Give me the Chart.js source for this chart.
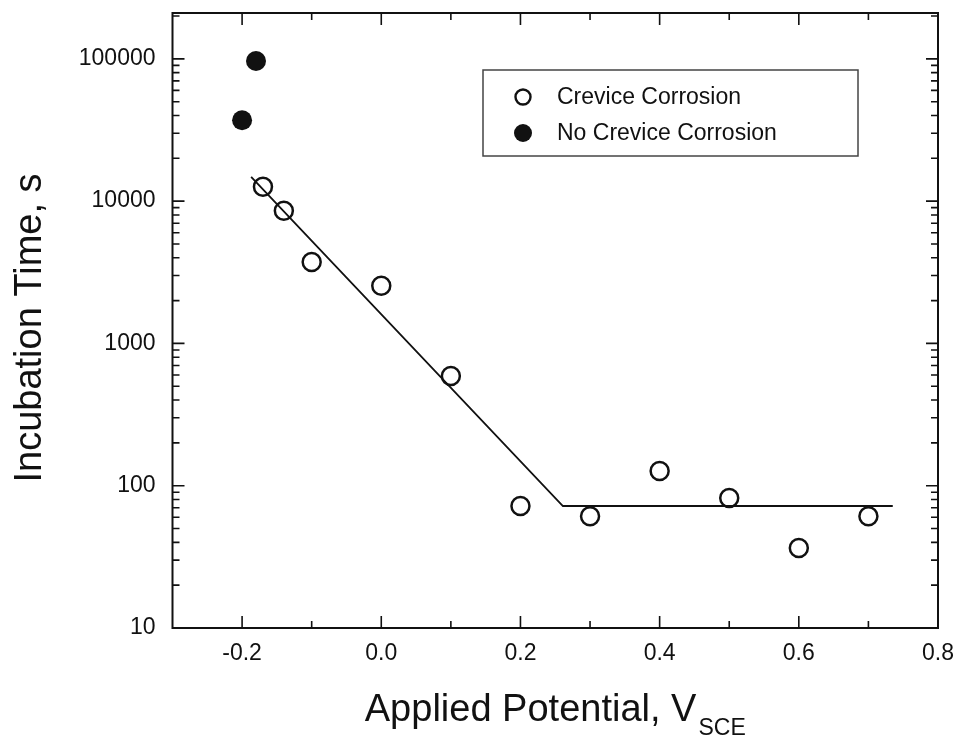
<!DOCTYPE html>
<html>
<head>
<meta charset="utf-8">
<script src="https://cdn.jsdelivr.net/npm/chart.js@4/dist/chart.umd.min.js"></script>
<style>
  html, body { margin: 0; padding: 0; background: #fff; }
  #wrap { width: 961px; height: 739px; position: relative; }
</style>
</head>
<body>
<div id="wrap"><canvas id="chart"></canvas></div>
<script>
// ── Data ────────────────────────────────────────────────────────
const POTENTIAL_CREVICE = [-0.17, -0.14, -0.10, 0.0, 0.1, 0.2, 0.3, 0.4, 0.5, 0.6, 0.7];
const TIME_CREVICE      = [12600, 8560, 3730, 2540, 590, 72, 61, 127, 82, 36.5, 61];

const POTENTIAL_NO_CREVICE = [-0.2, -0.18];
const TIME_NO_CREVICE      = [37000, 96500];

const FIT_POTENTIAL = [-0.187, 0.261, 0.735];
const FIT_TIME      = [14800, 72, 72];

const X_TICKS = [-0.2, 0.0, 0.2, 0.4, 0.6, 0.8];
const X_MINOR = [-0.1, 0.1, 0.3, 0.5, 0.7];
const Y_TICKS = [10, 100, 1000, 10000, 100000];

const LEGEND_LABELS = ['Crevice Corrosion', 'No Crevice Corrosion'];

const FONT = "'Liberation Sans', Arial, sans-serif";
const INK = '#111';

const pts = (xs, ys) => xs.map((x, i) => ({ x, y: ys[i] }));

// ── Frame, inward ticks, titles, legend ─────────────────────────
const decor = {
  id: 'decor',
  afterDraw(chart) {
    const { ctx, chartArea: a, scales: { x, y } } = chart;
    ctx.save();
    ctx.strokeStyle = INK;
    ctx.lineWidth = 2;
    ctx.strokeRect(a.left, a.top, a.right - a.left, a.bottom - a.top);

    ctx.lineWidth = 1.6;
    ctx.beginPath();
    const xTick = (v, len) => {
      const px = x.getPixelForValue(v);
      ctx.moveTo(px, a.bottom); ctx.lineTo(px, a.bottom - len);
      ctx.moveTo(px, a.top);    ctx.lineTo(px, a.top + len);
    };
    X_TICKS.filter(v => v < 0.8).forEach(v => xTick(v, 12));
    X_MINOR.forEach(v => xTick(v, 7));

    const yTick = (v, len) => {
      const py = y.getPixelForValue(v);
      if (py < a.top - 0.5 || py > a.bottom + 0.5) return;
      ctx.moveTo(a.left, py);  ctx.lineTo(a.left + len, py);
      ctx.moveTo(a.right, py); ctx.lineTo(a.right - len, py);
    };
    for (const dec of [10, 100, 1000, 10000, 100000]) {
      if (dec > 10) yTick(dec, 12);
      for (let m = 2; m <= 9; m++) yTick(dec * m, 7);
    }
    ctx.stroke();

    // axis titles
    ctx.fillStyle = INK;
    ctx.textBaseline = 'alphabetic';
    ctx.font = '38px ' + FONT;
    const main = 'Applied Potential, V';
    const mw = ctx.measureText(main).width;
    ctx.font = '23px ' + FONT;
    const sw = ctx.measureText('SCE').width;
    const cx = (a.left + a.right) / 2;
    const x0 = cx - (mw + 2 + sw) / 2;
    ctx.font = '38px ' + FONT;
    ctx.textAlign = 'left';
    ctx.fillText(main, x0, 721);
    ctx.font = '23px ' + FONT;
    ctx.fillText('SCE', x0 + mw + 2, 735);

    ctx.save();
    ctx.translate(41, 328);
    ctx.rotate(-Math.PI / 2);
    ctx.font = '38px ' + FONT;
    ctx.textAlign = 'center';
    ctx.fillText('Incubation Time, s', 0, 0);
    ctx.restore();

    // legend
    ctx.lineWidth = 1.5;
    ctx.strokeStyle = '#444';
    ctx.strokeRect(483, 70, 375, 86);
    ctx.font = '23px ' + FONT;
    ctx.textAlign = 'left';
    ctx.textBaseline = 'middle';
    ctx.lineWidth = 2.4;
    ctx.strokeStyle = INK;
    ctx.beginPath(); ctx.arc(523, 97, 7.5, 0, Math.PI * 2); ctx.stroke();
    ctx.beginPath(); ctx.arc(523, 133, 9, 0, Math.PI * 2); ctx.fill();
    ctx.fillText(LEGEND_LABELS[0], 557, 98);
    ctx.fillText(LEGEND_LABELS[1], 557, 134);
    ctx.restore();
  }
};

new Chart(document.getElementById('chart'), {
  type: 'scatter',
  data: {
    datasets: [
      {
        type: 'line',
        label: 'fit',
        data: pts(FIT_POTENTIAL, FIT_TIME),
        borderColor: INK,
        borderWidth: 1.8,
        pointRadius: 0,
        tension: 0,
        fill: false
      },
      {
        label: LEGEND_LABELS[0],
        data: pts(POTENTIAL_CREVICE, TIME_CREVICE),
        pointRadius: 9,
        pointBorderWidth: 2.5,
        borderColor: INK,
        backgroundColor: 'rgba(0,0,0,0)'
      },
      {
        label: LEGEND_LABELS[1],
        data: pts(POTENTIAL_NO_CREVICE, TIME_NO_CREVICE),
        pointRadius: 10,
        pointBorderWidth: 0,
        borderColor: INK,
        backgroundColor: INK
      }
    ]
  },
  options: {
    responsive: true, maintainAspectRatio: false,
    animation: false,
    layout: { padding: { left: 0, top: 13, right: 23, bottom: 0 } },
    plugins: { legend: { display: false }, tooltip: { enabled: false } },
    scales: {
      x: {
        type: 'linear',
        min: -0.3, max: 0.8,
        afterBuildTicks: s => { s.ticks = X_TICKS.map(v => ({ value: v })); },
        afterFit: s => { s.height = 111; s.paddingLeft = 0; s.paddingRight = 0; },
        grid: { display: false, drawTicks: false },
        border: { display: false },
        ticks: {
          padding: 12,
          color: INK,
          font: { family: FONT, size: 23 },
          callback: v => v.toFixed(1)
        }
      },
      y: {
        type: 'logarithmic',
        min: 10, max: 210000,
        afterBuildTicks: s => { s.ticks = Y_TICKS.map(v => ({ value: v })); },
        afterFit: s => { s.width = 172.5; s.paddingTop = 0; s.paddingBottom = 0; },
        grid: { display: false, drawTicks: false },
        border: { display: false },
        ticks: {
          padding: 17,
          color: INK,
          font: { family: FONT, size: 23 },
          callback: v => String(v)
        }
      }
    }
  },
  plugins: [decor]
});
</script>
</body>
</html>
